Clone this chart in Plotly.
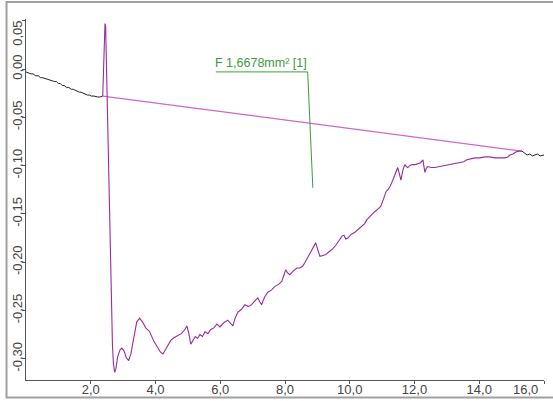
import plotly.graph_objects as go

# Pre-peak baseline signal (black)
pre_x = [0.00, 0.08, 0.15, 0.22, 0.30, 0.38, 0.45, 0.52, 0.60, 0.66, 0.73, 0.80, 0.88, 0.94, 1.00, 1.06,
         1.12, 1.18, 1.25, 1.32, 1.40, 1.46, 1.52, 1.58, 1.65, 1.70, 1.76, 1.83, 1.90, 1.96, 2.02, 2.10,
         2.17, 2.22, 2.28, 2.33, 2.37]
pre_y = [-0.003, -0.004, -0.005, -0.005, -0.007, -0.007, -0.009, -0.009, -0.010, -0.010, -0.011, -0.012,
         -0.013, -0.013, -0.015, -0.015, -0.017, -0.017, -0.019, -0.019, -0.021, -0.021, -0.022, -0.023,
         -0.024, -0.024, -0.025, -0.026, -0.027, -0.027, -0.028, -0.028, -0.029, -0.029, -0.029, -0.028,
         -0.028]

# Integrated peak region (purple)
peak_x = [2.37, 2.39, 2.40, 2.42, 2.44, 2.46, 2.48, 2.51, 2.55, 2.60, 2.64, 2.67, 2.70, 2.74,
          2.78, 2.83, 2.90, 2.96, 3.03, 3.10, 3.17, 3.24, 3.32, 3.42, 3.51, 3.60, 3.70, 3.82,
          3.95, 4.07, 4.15, 4.23, 4.30, 4.38, 4.47, 4.58, 4.69, 4.80, 4.90, 4.97, 5.03, 5.09,
          5.16, 5.23, 5.30, 5.37, 5.45, 5.53, 5.62, 5.70, 5.80, 5.90, 5.99, 6.10, 6.23, 6.32,
          6.39, 6.46, 6.54, 6.65, 6.76, 6.87, 6.97, 7.07, 7.16, 7.22, 7.28, 7.37, 7.47, 7.58,
          7.69, 7.80, 7.90, 7.96, 8.02, 8.08, 8.15, 8.26, 8.37, 8.46, 8.55, 8.62, 8.70, 8.77,
          8.83, 8.90, 8.95, 9.01, 9.08, 9.17, 9.26, 9.37, 9.48, 9.58, 9.69, 9.76, 9.82, 9.88,
          9.94, 10.05, 10.16, 10.27, 10.38, 10.46, 10.53, 10.61, 10.68, 10.76, 10.84, 10.90,
          10.96, 11.04, 11.12, 11.18, 11.24, 11.32, 11.39, 11.44, 11.48, 11.53, 11.58, 11.64,
          11.70, 11.75, 11.79, 11.85, 11.92, 12.02, 12.11, 12.19, 12.26, 12.29, 12.32, 12.36,
          12.41, 12.52, 12.63, 12.78, 12.94, 13.10, 13.25, 13.40, 13.52, 13.62, 13.75, 13.87,
          14.02, 14.17, 14.32, 14.48, 14.64, 14.79, 14.88, 14.95, 15.04, 15.13, 15.22, 15.29,
          15.32]
peak_y = [-0.028, 0.000, 0.012, 0.035, 0.047, 0.044, 0.010, -0.028, -0.100, -0.180, -0.250, -0.285, -0.305, -0.314,
          -0.310, -0.298, -0.291, -0.289, -0.292, -0.299, -0.302, -0.295, -0.280, -0.262, -0.258, -0.262, -0.268, -0.272,
          -0.282, -0.289, -0.293, -0.295, -0.291, -0.286, -0.281, -0.278, -0.276, -0.274, -0.270, -0.266, -0.274, -0.285,
          -0.281, -0.277, -0.279, -0.275, -0.277, -0.272, -0.274, -0.270, -0.268, -0.264, -0.267, -0.263, -0.260, -0.263,
          -0.266, -0.258, -0.252, -0.249, -0.244, -0.246, -0.244, -0.240, -0.237, -0.241, -0.244, -0.236, -0.231, -0.229,
          -0.225, -0.223, -0.220, -0.214, -0.208, -0.211, -0.213, -0.209, -0.206, -0.206, -0.204, -0.200, -0.195, -0.192,
          -0.187, -0.184, -0.180, -0.187, -0.194, -0.193, -0.192, -0.189, -0.186, -0.182, -0.177, -0.173, -0.172, -0.176,
          -0.175, -0.171, -0.169, -0.166, -0.162, -0.160, -0.156, -0.153, -0.150, -0.148, -0.146, -0.144,
          -0.142, -0.135, -0.127, -0.125, -0.122, -0.116, -0.110, -0.106, -0.102, -0.108, -0.115, -0.105,
          -0.099, -0.101, -0.102, -0.100, -0.099, -0.099, -0.098, -0.097, -0.094, -0.100, -0.107, -0.103,
          -0.101, -0.102, -0.102, -0.101, -0.100, -0.099, -0.098, -0.097, -0.096, -0.094, -0.093, -0.092,
          -0.092, -0.091, -0.091, -0.092, -0.092, -0.092, -0.091, -0.089, -0.088, -0.086, -0.085, -0.085,
          -0.085]

# Post-peak baseline signal (black)
post_x = [15.32, 15.40, 15.48, 15.56, 15.64, 15.72, 15.80, 15.88, 15.96, 16.00]
post_y = [-0.085, -0.087, -0.089, -0.088, -0.090, -0.089, -0.088, -0.090, -0.089, -0.089]

# Integration baseline endpoints
base_x = [2.37, 15.32]
base_y = [-0.028, -0.085]

# Axis ticks
x_ticks = [2, 4, 6, 8, 10, 12, 14, 16]
x_labels = ["2,0", "4,0", "6,0", "8,0", "10,0", "12,0", "14,0", "16,0"]
y_ticks = [0.05, 0.0, -0.05, -0.10, -0.15, -0.20, -0.25, -0.30]
y_labels = ["0,05", "0,00", "-0,05", "-0,10", "-0,15", "-0,20", "-0,25", "-0,30"]

# Peak area label and its leader line
area_text = "F 1,6678mm² [1]"
label_x0, label_x1, label_y = 5.86, 8.70, -0.003
leader_x, leader_y = 8.86, -0.123

font_family = "Liberation Sans, Arial, sans-serif"
tick_color = "#444444"
purple = "#9a2aa2"
green = "#3c9a3c"

fig = go.Figure()
fig.add_trace(go.Scatter(x=pre_x, y=pre_y, mode="lines", line=dict(color="#222222", width=1)))
fig.add_trace(go.Scatter(x=post_x, y=post_y, mode="lines", line=dict(color="#222222", width=1)))
fig.add_trace(go.Scatter(x=base_x, y=base_y, mode="lines", line=dict(color="#cc66d0", width=1.3)))
fig.add_trace(go.Scatter(x=peak_x, y=peak_y, mode="lines", line=dict(color=purple, width=1.1)))
fig.add_trace(go.Scatter(x=[label_x0, label_x1, leader_x], y=[label_y, label_y, leader_y],
                         mode="lines", line=dict(color=green, width=1)))

fig.add_annotation(x=label_x0, y=label_y, xref="x", yref="y", text=area_text, showarrow=False,
                   xanchor="left", yanchor="bottom", yshift=0, xshift=-3,
                   font=dict(family=font_family, size=12.5, color=green))

# Edge tick labels are pulled inward so they stay inside the frame
fig.add_annotation(x=x_ticks[-1], y=0, xref="x", yref="paper", text=x_labels[-1], showarrow=False,
                   xanchor="right", yanchor="top", xshift=-4, yshift=0,
                   font=dict(family=font_family, size=13, color=tick_color))
fig.add_annotation(x=0, y=y_ticks[0], xref="paper", yref="y", text=y_labels[0], showarrow=False,
                   textangle=-90, xanchor="right", yanchor="top", xshift=1, yshift=2,
                   font=dict(family=font_family, size=13, color=tick_color))
tick_text_x = x_labels[:-1] + [""]
tick_text_y = [""] + y_labels[1:]

# Outer frame
fig.add_shape(type="rect", xref="paper", yref="paper", x0=-0.0376, x1=1.05, y0=-0.0485, y1=1.047,
              line=dict(color="#a0a0a0", width=2), layer="below")

fig.update_layout(
    template="none",
    width=553, height=401, autosize=False,
    margin=dict(l=26, r=9, t=19, b=21),
    paper_bgcolor="white", plot_bgcolor="white",
    showlegend=False,
    font=dict(family=font_family, size=13, color=tick_color),
    xaxis=dict(range=[0, 16], automargin=False, showgrid=False, zeroline=False, showline=True,
               linecolor="#555555", linewidth=1, ticks="outside", ticklen=3, tickcolor="#555555",
               ticklabelstandoff=-6,
               tickvals=x_ticks, ticktext=tick_text_x, tickfont=dict(size=13, color=tick_color)),
    yaxis=dict(range=[-0.322, 0.0518], automargin=False, showgrid=False, zeroline=False, showline=True,
               linecolor="#555555", linewidth=1, ticks="outside", ticklen=3, tickcolor="#555555",
               ticklabelstandoff=-5,
               tickvals=y_ticks, ticktext=tick_text_y, tickangle=-90, tickfont=dict(size=13, color=tick_color)),
)

fig.write_html("out.html")
